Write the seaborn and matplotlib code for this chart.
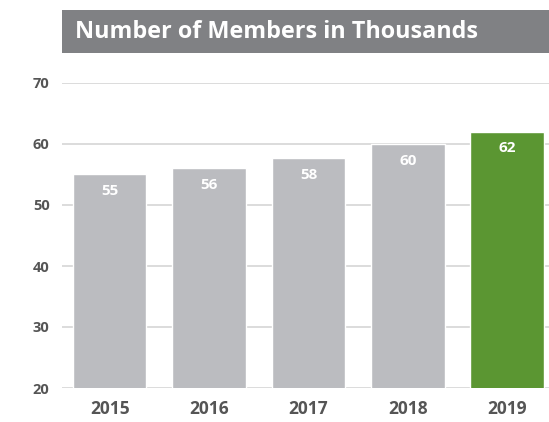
import matplotlib
matplotlib.use("Agg")
import matplotlib.pyplot as plt
import seaborn as sns
from matplotlib.patches import Rectangle

# chart data
years = ["2015", "2016", "2017", "2018", "2019"]
members = [55, 56, 57.7, 60, 62]
bar_colors = ["#BBBCC0", "#BBBCC0", "#BBBCC0", "#BBBCC0", "#5B9632"]
y_ticks = [20, 30, 40, 50, 60, 70]
title = "Number of Members in Thousands"

sns.set_style("white")
plt.rcParams["font.family"] = ["Open Sans", "DejaVu Sans"]

fig = plt.figure(figsize=(5.49, 4.22), dpi=100)
ax = fig.add_axes([62 / 549, 34 / 422, 487 / 549, 305 / 422])

sns.barplot(x=years, y=members, hue=years, palette=bar_colors, legend=False,
            width=0.74, ax=ax, zorder=3, saturation=1)

ax.set_ylim(20, 70)
ax.set_xlim(-0.48, 4.42)
ax.set_yticks(y_ticks)
ax.yaxis.grid(True, color="#D6D6D6", linewidth=1.2, zorder=0)
ax.set_axisbelow(True)
for s in ax.spines.values():
    s.set_visible(False)
ax.tick_params(axis="y", length=0, pad=9, labelsize=10.5, labelcolor="#555555")
ax.tick_params(axis="x", length=0, pad=9, labelsize=12.5, labelcolor="#555555")
for lab in ax.get_xticklabels() + ax.get_yticklabels():
    lab.set_fontweight("bold")
ax.set_xlabel("")
ax.set_ylabel("")

# value labels inside bars
for i, v in enumerate(members):
    ax.annotate(f"{round(v)}", (i, v), xytext=(0, -12), textcoords="offset points",
                ha="center", va="center", color="white", fontsize=11,
                fontweight="bold", zorder=4)

# title box
fig.patches.append(Rectangle((62 / 549, (422 - 53) / 422), 487 / 549, 43 / 422,
                             transform=fig.transFigure, facecolor="#808184",
                             edgecolor="none"))
fig.text(75 / 549, (422 - 32) / 422, title, color="white", fontsize=16.8,
         fontweight="bold", ha="left", va="center")

fig.savefig("out.png", dpi=100)
